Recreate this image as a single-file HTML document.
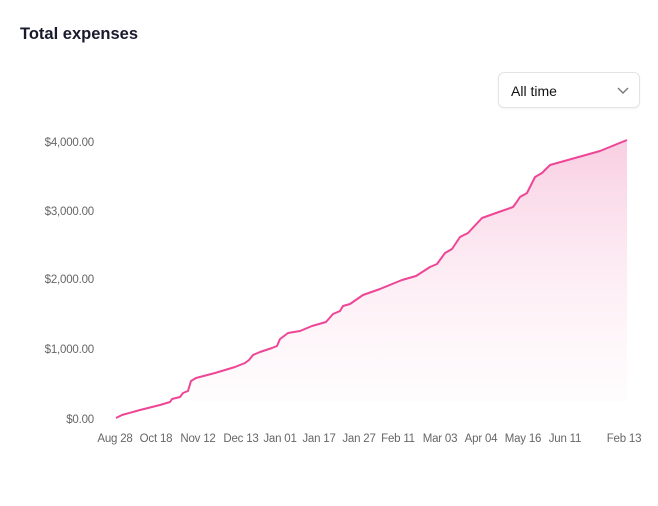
<!DOCTYPE html>
<html><head><meta charset="utf-8"><style>
html,body{margin:0;padding:0;background:#fff;width:658px;height:506px;overflow:hidden;font-family:"Liberation Sans",sans-serif}
.t{position:absolute;left:20px;top:25px;font-size:16.5px;font-weight:bold;color:#1a1a2e}
.dd{position:absolute;left:498px;top:72px;width:142px;height:36px;border:1px solid #e3e3e3;border-radius:6px;box-sizing:border-box;box-shadow:0 1px 2px rgba(0,0,0,.05)}
.dd span{position:absolute;left:12px;top:10px;font-size:14px;color:#111}
</style></head><body>
<div class="t">Total expenses</div>
<div class="dd"><span>All time</span>
<svg style="position:absolute;left:118px;top:14px" width="12" height="8"><polyline points="1,1 6,6 11,1" fill="none" stroke="#777" stroke-width="1.4"/></svg></div>
<svg width="658" height="506" style="position:absolute;left:0;top:0">
<defs><linearGradient id="g" x1="0" y1="140" x2="0" y2="402" gradientUnits="userSpaceOnUse">
<stop offset="0" stop-color="#f7c6dd" stop-opacity="0.85"/><stop offset="1" stop-color="#fde8f1" stop-opacity="0.1"/></linearGradient></defs>
<g font-size="11.5" fill="#666" text-anchor="end" letter-spacing="-0.2">
<text x="94" y="146">$4,000.00</text><text x="94" y="215">$3,000.00</text><text x="94" y="283">$2,000.00</text><text x="94" y="353">$1,000.00</text><text x="94" y="423">$0.00</text></g>
<g font-size="11.5" fill="#666" text-anchor="middle" letter-spacing="-0.2">
<text x="115" y="442">Aug 28</text><text x="156" y="442">Oct 18</text><text x="198" y="442">Nov 12</text><text x="241" y="442">Dec 13</text><text x="280" y="442">Jan 01</text><text x="319" y="442">Jan 17</text><text x="359" y="442">Jan 27</text><text x="398" y="442">Feb 11</text><text x="440" y="442">Mar 03</text><text x="481" y="442">Apr 04</text><text x="523" y="442">May 16</text><text x="565" y="442">Jun 11</text><text x="624" y="442">Feb 13</text></g>
<polygon fill="url(#g)" points="190,402 191,381 196,378 215,373 235,367 245,363 249,360 253,355 260,352 272,348 277,346 280,339 288,333 300,331 312,326 326,322 333,314 340,311 343,306 350,304 363,295 380,289 402,280 416,276 430,267 437,264 445,253 452,249 460,237 468,233 482,218 496,213 513,207 516,203 520,197 527,193 535,177 542,173 550,165 575,158 600,151 627,140 627,402"/>
<polyline fill="none" stroke="#ee4596" stroke-width="2" stroke-linejoin="round" points="116,418 122,415 140,410 160,405 170,402 172,399 180,397 183,393 188,391 191,381 196,378 215,373 235,367 245,363 249,360 253,355 260,352 272,348 277,346 280,339 288,333 300,331 312,326 326,322 333,314 340,311 343,306 350,304 363,295 380,289 402,280 416,276 430,267 437,264 445,253 452,249 460,237 468,233 482,218 496,213 513,207 516,203 520,197 527,193 535,177 542,173 550,165 575,158 600,151 627,140"/>
</svg>
</body></html>
